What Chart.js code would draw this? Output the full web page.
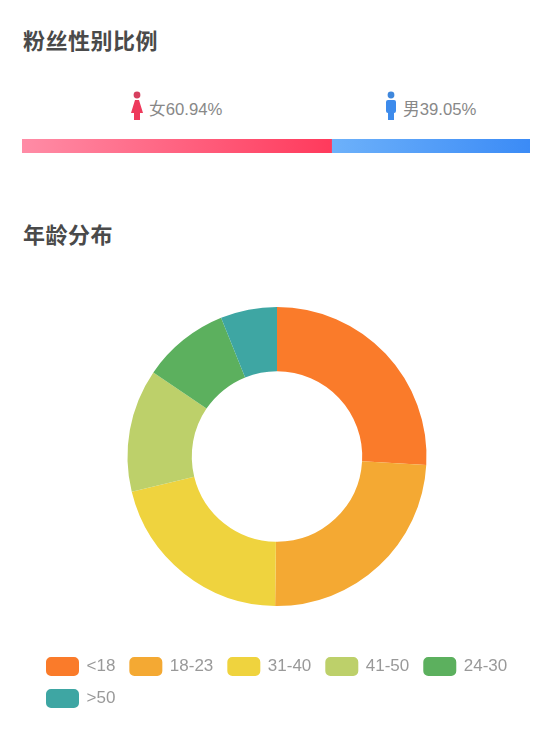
<!DOCTYPE html>
<html>
<head>
<meta charset="utf-8">
<script src="https://cdn.jsdelivr.net/npm/chart.js@4"></script>
<style>
html, body { margin: 0; padding: 0; background: #fff; }
body { width: 554px; height: 742px; position: relative; overflow: hidden; font-family: "Liberation Sans", "Noto Sans CJK SC", sans-serif; }
h2 { position: absolute; left: 23px; margin: 0; font: bold 22px/30px "Noto Sans CJK SC", sans-serif; color: #4a4a4a; letter-spacing: 0.5px; }
.sex { position: absolute; top: 99px; font-size: 16.7px; line-height: 22px; color: #888; white-space: nowrap; }
svg { position: absolute; top: 91px; }
canvas { position: absolute; }
</style>
</head>
<body>
<h2 style="top:24px">粉丝性别比例</h2>
<h2 style="top:218px">年龄分布</h2>

<svg style="left:131px" width="12" height="30" viewBox="0 0 12 30"><circle cx="6" cy="4" r="3.4" fill="#d6405f"/><path d="M4 9h4l4 13h-3v7h-6v-7H0z" fill="#ee3a5c"/></svg>
<span class="sex" id="label_female" style="left:149px"></span>
<svg style="left:385px" width="12" height="30" viewBox="0 0 12 30"><circle cx="6" cy="4" r="3.4" fill="#3f87dc"/><path d="M3 9h6q2 0 2 2v9q0 2-2 2v7h-6v-7q-2 0-2-2v-9q0-2 2-2z" fill="#3d8bec"/></svg>
<span class="sex" id="label_male" style="left:403px"></span>

<canvas id="sex_canvas" style="left:22px;top:139px"></canvas>
<canvas id="age_canvas" style="left:-0.5px;top:265px"></canvas>

<script>
// genre
const sex_names = ["女", "男"];
const sex_values = [60.94, 39.05];

// age
const age_labels = ["<18", "18-23", "31-40", "41-50", "24-30", ">50"];
const age_values = [25.9, 24.3, 21.0, 13.3, 9.4, 6.1];
const age_colors = ["#fa7b2a", "#f4a933", "#efd33e", "#bdd06a", "#5cb05e", "#3ea6a3"];

document.getElementById('label_female').textContent = sex_names[0] + sex_values[0] + "%";
document.getElementById('label_male').textContent = sex_names[1] + sex_values[1].toFixed(2) + "%";

function sex_gradient(context, from, to) {
  const chart = context.chart;
  if (!chart.chartArea) return to;
  const x = chart.scales.x;
  const start = context.datasetIndex === 0 ? 0 : sex_values[0];
  const end = start + sex_values[context.datasetIndex];
  const gradient = chart.ctx.createLinearGradient(x.getPixelForValue(start), 0, x.getPixelForValue(end), 0);
  gradient.addColorStop(0, from);
  gradient.addColorStop(1, to);
  return gradient;
}

//barre_genre

const sex_el = document.getElementById('sex_canvas');
sex_el.width = 508;
sex_el.height = 14;
new Chart(sex_el.getContext('2d'), {
  type: 'bar',
  data: {
    labels: ["sex"],
    datasets: [
      {
        label: sex_names[0],
        data: [sex_values[0]],
        backgroundColor: (c) => sex_gradient(c, "#ff8ca6", "#ff3a5c"),
        barPercentage: 1,
        categoryPercentage: 1,
      },
      {
        label: sex_names[1],
        data: [sex_values[1]],
        backgroundColor: (c) => sex_gradient(c, "#6db1fa", "#3b8bf6"),
        barPercentage: 1,
        categoryPercentage: 1,
      },
    ],
  },
  options: {
    indexAxis: 'y',
    responsive: false,
    animation: false,
    scales: {
      x: { display: false, stacked: true, min: 0, max: sex_values[0] + sex_values[1] },
      y: { display: false, stacked: true },
    },
    plugins: { legend: { display: false }, tooltip: { enabled: false } },
  }
});

//donut_age

const age_el = document.getElementById('age_canvas');
age_el.width = 554;
age_el.height = 452;
new Chart(age_el.getContext('2d'), {
  type: 'doughnut',
  data: {
    labels: age_labels,
    datasets: [
      {
        data: age_values,
        backgroundColor: age_colors,
        borderWidth: 0,
        radius: 149.5,
        cutout: '57%',
      },
    ],
  },
  options: {
    responsive: false,
    animation: false,
    layout: { padding: { top: 5 } },
    plugins: {
      tooltip: { enabled: false },
      legend: {
        position: 'bottom',
        align: 'start',
        labels: {
          color: "#999",
          font: { family: '"Liberation Sans", sans-serif', size: 17 },
          boxWidth: 31,
          boxHeight: 17,
          padding: 15,
          generateLabels: (chart) => Chart.overrides.doughnut.plugins.legend.labels.generateLabels(chart).map((item) => ({
            ...item,
            strokeStyle: item.fillStyle,
            lineWidth: 2,
            borderRadius: 4,
          })),
        },
      },
    },
  },
  plugins: [{
    id: 'legend_left',
    afterLayout(chart) { chart.legend.left += 32; },
  }],
});
</script>
</body>
</html>
